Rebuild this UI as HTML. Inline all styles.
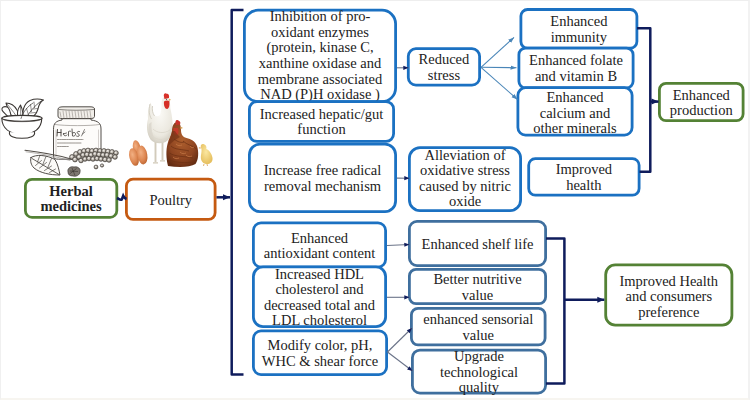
<!DOCTYPE html><html><head><meta charset="utf-8"><style>
html,body{margin:0;padding:0;background:#fff;}
body{width:750px;height:400px;position:relative;overflow:hidden;font-family:"Liberation Serif",serif;}
.frame{position:absolute;left:0;top:0;width:750px;height:400px;box-sizing:border-box;border-top:1px solid #eeeeee;border-left:1px solid #f0f0f0;border-right:2px solid #f2f2f2;border-bottom:2px solid #f7f5f0;}
.b{position:absolute;box-sizing:border-box;display:flex;flex-direction:column;justify-content:center;align-items:center;}
.t{font-size:14.5px;line-height:15.5px;color:#222222;text-align:center;white-space:nowrap;}
svg{position:absolute;left:0;top:0;}
</style></head><body><div class="frame"></div>
<svg width="750" height="400"><rect x="244.40" y="10.20" width="151.20" height="91.40" rx="13.60" ry="13.60" fill="#fff" stroke="#1b71c2" stroke-width="2.80"/></svg><div class="b" style="left:243.0px;top:8.8px;width:154.0px;height:94.2px;"><div style="position:relative;top:0.1px"><div class="t" style="line-height:15.55px">Inhibition of pro-</div><div class="t" style="line-height:15.55px">oxidant enzymes</div><div class="t" style="line-height:15.55px">(protein, kinase C,</div><div class="t" style="line-height:15.55px">xanthine oxidase and</div><div class="t" style="line-height:15.55px">membrane associated</div><div class="t" style="line-height:15.55px">NAD (P)H oxidase )</div></div></div>
<svg width="750" height="400"><rect x="249.40" y="101.60" width="144.20" height="39.80" rx="7.60" ry="7.60" fill="#fff" stroke="#1b71c2" stroke-width="2.80"/></svg><div class="b" style="left:248.0px;top:100.2px;width:147.0px;height:42.6px;"><div style="position:relative;top:1.0px"><div class="t" style="line-height:15.5px">Increased hepatic/gut</div><div class="t" style="line-height:15.5px">function</div></div></div>
<svg width="750" height="400"><rect x="249.40" y="144.20" width="146.20" height="67.40" rx="10.60" ry="10.60" fill="#fff" stroke="#1b71c2" stroke-width="2.80"/></svg><div class="b" style="left:248.0px;top:142.8px;width:149.0px;height:70.2px;"><div style="position:relative;top:1.0px"><div class="t" style="line-height:15.5px">Increase free radical</div><div class="t" style="line-height:15.5px">removal mechanism</div></div></div>
<svg width="750" height="400"><rect x="253.40" y="222.90" width="132.20" height="44.20" rx="7.60" ry="7.60" fill="#fff" stroke="#1b71c2" stroke-width="2.80"/></svg><div class="b" style="left:252.0px;top:221.5px;width:135.0px;height:47.0px;"><div style="position:relative;top:1.4px"><div class="t" style="line-height:15.5px">Enhanced</div><div class="t" style="line-height:15.5px">antioxidant content</div></div></div>
<svg width="750" height="400"><rect x="253.40" y="266.90" width="132.20" height="59.70" rx="9.60" ry="9.60" fill="#fff" stroke="#1b71c2" stroke-width="2.80"/></svg><div class="b" style="left:252.0px;top:265.5px;width:135.0px;height:62.5px;"><div style="position:relative;top:0.8px"><div class="t" style="line-height:15.5px">Increased HDL</div><div class="t" style="line-height:15.5px">cholesterol and</div><div class="t" style="line-height:15.5px">decreased total and</div><div class="t" style="line-height:15.5px">LDL cholesterol</div></div></div>
<svg width="750" height="400"><rect x="253.40" y="330.90" width="133.20" height="43.70" rx="7.60" ry="7.60" fill="#fff" stroke="#1b71c2" stroke-width="2.80"/></svg><div class="b" style="left:252.0px;top:329.5px;width:136.0px;height:46.5px;"><div style="position:relative;top:1.0px"><div class="t" style="line-height:15.5px">Modify color, pH,</div><div class="t" style="line-height:15.5px">WHC &amp; shear force</div></div></div>
<svg width="750" height="400"><rect x="408.30" y="48.70" width="71.30" height="36.40" rx="7.60" ry="7.60" fill="#fff" stroke="#1b71c2" stroke-width="2.80"/></svg><div class="b" style="left:406.9px;top:47.3px;width:74.1px;height:39.2px;"><div style="position:relative;top:1.0px"><div class="t" style="line-height:15.5px">Reduced</div><div class="t" style="line-height:15.5px">stress</div></div></div>
<svg width="750" height="400"><rect x="409.40" y="147.70" width="111.20" height="62.90" rx="10.60" ry="10.60" fill="#fff" stroke="#1b71c2" stroke-width="2.80"/></svg><div class="b" style="left:408.0px;top:146.3px;width:114.0px;height:65.7px;"><div style="position:relative;top:-0.3px"><div class="t" style="line-height:15.5px">Alleviation of</div><div class="t" style="line-height:15.5px">oxidative stress</div><div class="t" style="line-height:15.5px">caused by nitric</div><div class="t" style="line-height:15.5px">oxide</div></div></div>
<svg width="750" height="400"><rect x="409.40" y="221.40" width="136.20" height="44.20" rx="7.60" ry="7.60" fill="#fff" stroke="#3f6f9e" stroke-width="2.80"/></svg><div class="b" style="left:408.0px;top:220.0px;width:139.0px;height:47.0px;"><div style="position:relative;top:1.0px"><div class="t" style="line-height:15.5px">Enhanced shelf life</div></div></div>
<svg width="750" height="400"><rect x="409.40" y="269.40" width="136.20" height="34.20" rx="6.60" ry="6.60" fill="#fff" stroke="#3f6f9e" stroke-width="2.80"/></svg><div class="b" style="left:408.0px;top:268.0px;width:139.0px;height:37.0px;"><div style="position:relative;top:1.0px"><div class="t" style="line-height:15.5px">Better nutritive</div><div class="t" style="line-height:15.5px">value</div></div></div>
<svg width="750" height="400"><rect x="411.40" y="308.40" width="133.70" height="36.50" rx="6.60" ry="6.60" fill="#fff" stroke="#3f6f9e" stroke-width="2.80"/></svg><div class="b" style="left:410.0px;top:307.0px;width:136.5px;height:39.3px;"><div style="position:relative;top:1.0px"><div class="t" style="line-height:15.5px">enhanced sensorial</div><div class="t" style="line-height:15.5px">value</div></div></div>
<svg width="750" height="400"><rect x="412.40" y="350.10" width="133.20" height="43.00" rx="7.60" ry="7.60" fill="#fff" stroke="#3f6f9e" stroke-width="2.80"/></svg><div class="b" style="left:411.0px;top:348.7px;width:136.0px;height:45.8px;"><div style="position:relative;top:1.0px"><div class="t" style="line-height:15.5px">Upgrade</div><div class="t" style="line-height:15.5px">technological</div><div class="t" style="line-height:15.5px">quality</div></div></div>
<svg width="750" height="400"><rect x="520.90" y="9.50" width="116.00" height="38.60" rx="6.60" ry="6.60" fill="#fff" stroke="#1b71c2" stroke-width="2.80"/></svg><div class="b" style="left:519.5px;top:8.1px;width:118.8px;height:41.4px;"><div style="position:relative;top:1.0px"><div class="t" style="line-height:15.5px">Enhanced</div><div class="t" style="line-height:15.5px">immunity</div></div></div>
<svg width="750" height="400"><rect x="518.90" y="48.10" width="114.20" height="39.80" rx="6.60" ry="6.60" fill="#fff" stroke="#1b71c2" stroke-width="2.80"/></svg><div class="b" style="left:517.5px;top:46.7px;width:117.0px;height:42.6px;"><div style="position:relative;top:1.0px"><div class="t" style="line-height:15.5px">Enhanced folate</div><div class="t" style="line-height:15.5px">and vitamin B</div></div></div>
<svg width="750" height="400"><rect x="517.90" y="87.70" width="114.20" height="47.40" rx="7.60" ry="7.60" fill="#fff" stroke="#1b71c2" stroke-width="2.80"/></svg><div class="b" style="left:516.5px;top:86.3px;width:117.0px;height:50.2px;"><div style="position:relative;top:2.2px"><div class="t" style="line-height:15.5px">Enhanced</div><div class="t" style="line-height:15.5px">calcium and</div><div class="t" style="line-height:15.5px">other minerals</div></div></div>
<svg width="750" height="400"><rect x="528.70" y="158.70" width="110.40" height="36.40" rx="6.60" ry="6.60" fill="#fff" stroke="#1b71c2" stroke-width="2.80"/></svg><div class="b" style="left:527.3px;top:157.3px;width:113.2px;height:39.2px;"><div style="position:relative;top:1.0px"><div class="t" style="line-height:15.5px">Improved</div><div class="t" style="line-height:15.5px">health</div></div></div>
<svg width="750" height="400"><rect x="659.40" y="83.40" width="83.70" height="37.20" rx="6.60" ry="6.60" fill="#fff" stroke="#548235" stroke-width="2.80"/></svg><div class="b" style="left:658.0px;top:82.0px;width:86.5px;height:40.0px;"><div style="position:relative;top:1.0px"><div class="t" style="line-height:15.5px">Enhanced</div><div class="t" style="line-height:15.5px">production</div></div></div>
<svg width="750" height="400"><rect x="605.70" y="264.90" width="126.20" height="60.20" rx="9.60" ry="9.60" fill="#fff" stroke="#548235" stroke-width="2.80"/></svg><div class="b" style="left:604.3px;top:263.5px;width:129.0px;height:63.0px;"><div style="position:relative;top:1.8px"><div class="t" style="line-height:15.5px">Improved Health</div><div class="t" style="line-height:15.5px">and consumers</div><div class="t" style="line-height:15.5px">preference</div></div></div>
<svg width="750" height="400"><rect x="25.40" y="179.40" width="91.40" height="37.90" rx="6.60" ry="6.60" fill="#fff" stroke="#548235" stroke-width="2.80"/></svg><div class="b" style="left:24.0px;top:178.0px;width:94.2px;height:40.7px;"><div style="position:relative;top:1.0px"><div class="t" style="line-height:15.5px;font-weight:bold">Herbal</div><div class="t" style="line-height:15.5px;font-weight:bold">medicines</div></div></div>
<svg width="750" height="400"><rect x="126.40" y="179.20" width="88.70" height="40.20" rx="6.60" ry="6.60" fill="#fff" stroke="#c55a11" stroke-width="2.80"/></svg><div class="b" style="left:125.0px;top:177.8px;width:91.5px;height:43.0px;"><div style="position:relative;top:1.5px"><div class="t" style="line-height:15.5px">Poultry</div></div></div>
<svg width="750" height="400" viewBox="0 0 750 400">
<defs><marker id="ah" markerWidth="8" markerHeight="8" refX="6" refY="4" orient="auto" markerUnits="userSpaceOnUse"><path d="M0.8,1.9 L6,4 L0.8,6.1 Z" fill="#0f1c5c"/></marker>
<marker id="ahl" markerWidth="8" markerHeight="8" refX="6" refY="4" orient="auto" markerUnits="userSpaceOnUse"><path d="M0,1.8 L6,4 L0,6.2 Z" fill="#4a86b8"/></marker>
<marker id="ahb" markerWidth="10" markerHeight="10" refX="8" refY="5" orient="auto" markerUnits="userSpaceOnUse"><path d="M1,2 L8,5 L1,8 Z" fill="#0f1c5c"/></marker></defs>
<path d="M243.5,10 H231.7 V374.5 H243.5" fill="none" stroke="#0f1c5c" stroke-width="2.5" stroke-linejoin="round"/>
<path d="M637,28.3 H650.3 V171.7 H639.5" fill="none" stroke="#0f1c5c" stroke-width="2.5" stroke-linejoin="round"/>
<path d="M546,238.5 H564.4 V383.5 H546" fill="none" stroke="#0f1c5c" stroke-width="2.5" stroke-linejoin="round"/>
<path d="M650.3,101.6 H658.5" fill="none" stroke="#0f1c5c" stroke-width="2.5" marker-end="url(#ahb)"/>
<path d="M564.4,299.8 H604.3" fill="none" stroke="#0f1c5c" stroke-width="2.5" marker-end="url(#ahb)"/>
<path d="M216.5,197.3 H230" fill="none" stroke="#0f1c5c" stroke-width="2.5" marker-end="url(#ahb)"/>
<path d="M117,198 C119,199 120.5,200.5 121.8,199.5 L123.2,195.8 C124,197.5 125,198.5 126.5,199" fill="none" stroke="#0f1c5c" stroke-width="2.6"/>
<line x1="397" y1="67.8" x2="408.5" y2="67.8" stroke="#6a7388" stroke-width="1.1" marker-end="url(#ah)"/>
<line x1="397" y1="178.1" x2="409.5" y2="178.3" stroke="#6a7388" stroke-width="1.1" marker-end="url(#ah)"/>
<line x1="387" y1="245.5" x2="409.5" y2="244.5" stroke="#6a7388" stroke-width="1.1" marker-end="url(#ah)"/>
<line x1="387" y1="297.3" x2="409.5" y2="297.3" stroke="#6a7388" stroke-width="1.1" marker-end="url(#ah)"/>
<line x1="387.5" y1="352" x2="412" y2="328" stroke="#6a7388" stroke-width="1.1" marker-end="url(#ah)"/>
<line x1="387.5" y1="352" x2="412.5" y2="371" stroke="#6a7388" stroke-width="1.1" marker-end="url(#ah)"/>
<line x1="481" y1="67.3" x2="514" y2="37.4" stroke="#4a86b8" stroke-width="1.1" marker-end="url(#ahl)"/>
<line x1="481" y1="67.3" x2="516.5" y2="67.75" stroke="#4a86b8" stroke-width="1.1" marker-end="url(#ahl)"/>
<line x1="481" y1="67.3" x2="517.5" y2="99.5" stroke="#4a86b8" stroke-width="1.1" marker-end="url(#ahl)"/>
</svg><svg width="750" height="400" viewBox="0 0 750 400" style="position:absolute;left:0;top:0">
<defs>
<radialGradient id="eg" cx="0.4" cy="0.35" r="0.7"><stop offset="0" stop-color="#f2b083"/><stop offset="0.65" stop-color="#dc8550"/><stop offset="1" stop-color="#b9632f"/></radialGradient>
<radialGradient id="wh" cx="0.5" cy="0.35" r="0.7"><stop offset="0" stop-color="#fbfaf6"/><stop offset="0.7" stop-color="#ebe8df"/><stop offset="1" stop-color="#cfcabd"/></radialGradient>
<radialGradient id="br" cx="0.5" cy="0.4" r="0.65"><stop offset="0" stop-color="#ad5f2e"/><stop offset="0.65" stop-color="#8e4420"/><stop offset="1" stop-color="#642c12"/></radialGradient>
<radialGradient id="ch" cx="0.45" cy="0.4" r="0.6"><stop offset="0" stop-color="#fbe7a0"/><stop offset="1" stop-color="#e6c060"/></radialGradient>
<radialGradient id="pc" cx="0.4" cy="0.35" r="0.65"><stop offset="0" stop-color="#f2efea"/><stop offset="0.6" stop-color="#b8b2aa"/><stop offset="1" stop-color="#6e6860"/></radialGradient>
</defs>
<!-- HERBS : bowl + leaves -->
<g fill="none" stroke="#3a3633" stroke-width="1.05" stroke-linejoin="round" stroke-linecap="round">
  <path d="M23,121 C22,112 23,104 30,100.5 C35,98.5 40,99 43.5,100 C40.5,101.5 39,104 38,109 C36.5,115 31,119 25,121 Z" fill="#fff"/>
  <path d="M25,119.5 C29,113 34,106 41.5,100.8" stroke-width="0.8"/>
  <path d="M28.5,115 L26.5,108.5 M31.5,111.5 L30.5,104.5 M34.5,107.5 L34,102 M30.5,113 L35.5,112.5 M33.5,109 L37.5,108.5" stroke-width="0.55"/>
  <path d="M14.5,121 C10.5,115 7.5,109 6,103 C10.5,103 14.5,105.5 17,110 C19,113.5 20.5,117.5 21,121 Z" fill="#fff"/>
  <path d="M7,104 C12,110 16,115 19,120.5" stroke-width="0.6"/>
  <path d="M18.5,121 C16.5,115 17.5,109 20.5,105 C22.5,109 23.5,115 22.5,121 Z" fill="#fff"/>
  <path d="M20.5,106 L20.8,120" stroke-width="0.55"/>
  <path d="M9,118 C6.5,114.5 3,112.5 2,110 C1.3,107 4.3,106 7.3,107 C9.3,108 10.5,112 11.5,118" fill="#fff"/>
  <path d="M1.8,118 C2,128.5 10,134 22,134.5 C34,134 41.5,128.5 41.8,118" fill="#fff" stroke-width="1.15"/>
  <ellipse cx="22" cy="118.3" rx="20" ry="2.9" fill="#fff" stroke-width="1.15"/>
  <path d="M4,120 C10,122.3 34,122.3 40,120" stroke-width="0.5"/>
  <path d="M9.5,132.3 C8.5,136 14,138.2 22,138.2 C30,138.2 35.5,136 34.5,132.3" fill="#fff" stroke-width="1.1"/>
  <path d="M21,118.5 C23,112 27,107 33,103" stroke-width="0.7"/>
</g>
<!-- jar -->
<g fill="none" stroke="#3e3a36" stroke-width="0.9" stroke-linejoin="round" stroke-linecap="round">
  <path d="M53.5,129 C53.5,123 56,121 62,120 L62,118.6 L91,118.6 L91,120 C98,121 101,123 101,129 L101,157 C101,158.5 99,159.2 96,159.2 L58.5,159.2 C55.5,159.2 53.5,158.5 53.5,157 Z" fill="#fdfcfa"/>
  <path d="M58,109 C58,107.5 60,106.8 63,106.8 L90,106.8 C93,106.8 94.5,107.5 94.5,109 L94.5,116.5 C94.5,118 92.5,118.6 90,118.6 L62.5,118.6 C60,118.6 58,118 58,116.5 Z" fill="#f1eee9"/>
  <path d="M59,109.5 C70,110.5 82,110.5 94,109.5" stroke-width="0.6"/>
  <path d="M60,112 L61,117 M63,111 L64,118 M66,111 L67,118 M69,111 L70,118 M72,111 L73,118 M75,111 L76,118 M78,111 L79,118 M81,111 L82,118 M84,111 L85,118 M87,111 L88,118 M90,111 L91,118" stroke-width="0.55" stroke="#8a857e"/>
  <path d="M55,124.5 C65,126 90,126 99.5,124.5" stroke-width="0.55" stroke="#77726c"/>
  <path d="M56,130 L56,156 M98.5,130 L98.5,156" stroke-width="0.45" stroke="#a09b95"/>
  <path d="M57,136 L57.5,129.5 M57.3,132.5 L61,132.5 M61,129.5 L61,136" stroke-width="0.9"/>
  <path d="M63.5,133.5 C63,136 66,136.5 67,135 M63.3,134 L66.5,133" stroke-width="0.8"/>
  <path d="M68.5,136 L68.5,131.5 C69.5,131 70.5,131 71,131.5" stroke-width="0.8"/>
  <path d="M72,129 L72.5,136 C74,136.5 76,135.5 75.5,133.5 C75,132 73,132.5 72.5,133" stroke-width="0.8"/>
  <path d="M79.5,131.5 C78,131 76.5,132 77.5,133.3 C78.5,134 80,134.5 79,136 C78,136.8 77,136.3 76.5,136" stroke-width="0.8"/>
  <path d="M81.5,136 L84.5,129.5 M82.5,134 L85,132" stroke-width="0.6"/>
  <path d="M57.5,139.5 H83 M57.5,143 H81 M57.5,146.5 H69" stroke="#8f8a84" stroke-width="0.9" stroke-dasharray="1.6 0.7"/>
  <!-- stick -->
  <path d="M25,150.3 C38,151.8 55,154.5 71,159" stroke-width="1.1" stroke="#55504a"/>
  <path d="M26,151.8 C40,153.5 56,156.5 70,160.5" stroke-width="0.6" stroke="#8a857f"/>
  <!-- bottom leaf -->
  <path d="M31,157.5 C36,154 47,155 55,159.5 C58,164.5 59,170 60,175 C50,175 40,173 34,168 C31,165 30,161 31,157.5 Z" fill="#fbfaf8"/>
  <path d="M32,158.5 L59,174.5" stroke-width="0.8"/>
  <path d="M35.5,165.5 L41.5,160.5 M39.5,168 L46.5,162.5 M44.5,170.5 L51.5,166 M49.5,172.5 L55.5,169 M37.5,162 L39.5,156.5 M43,164 L46,156.5 M48,167 L51.5,158.5" stroke-width="0.65"/>
</g>
<!-- peppercorns -->
<g fill="url(#pc)" stroke="#45403b" stroke-width="0.75">
  <circle cx="72" cy="157" r="2.4"/><circle cx="76" cy="154" r="2.4"/><circle cx="80" cy="152" r="2.4"/><circle cx="84" cy="151" r="2.4"/><circle cx="88" cy="150.5" r="2.4"/><circle cx="92" cy="151" r="2.4"/><circle cx="96" cy="150.5" r="2.4"/><circle cx="100" cy="151" r="2.4"/><circle cx="104" cy="151" r="2.4"/><circle cx="108" cy="151.5" r="2.4"/><circle cx="112" cy="152" r="2.4"/><circle cx="116" cy="153" r="2.3"/>
  <circle cx="75" cy="159.5" r="2.4"/><circle cx="79" cy="157" r="2.4"/><circle cx="83" cy="155" r="2.4"/><circle cx="87" cy="154.5" r="2.4"/><circle cx="91" cy="155" r="2.4"/><circle cx="95" cy="154" r="2.4"/><circle cx="99" cy="154.5" r="2.4"/><circle cx="103" cy="155" r="2.4"/><circle cx="107" cy="155" r="2.4"/><circle cx="111" cy="156" r="2.4"/><circle cx="115" cy="157" r="2.3"/>
  <circle cx="81" cy="160.5" r="2.3"/><circle cx="85" cy="159" r="2.3"/><circle cx="89" cy="158.5" r="2.3"/><circle cx="93" cy="159" r="2.3"/><circle cx="97" cy="158.5" r="2.3"/><circle cx="101" cy="159" r="2.3"/><circle cx="105" cy="159.5" r="2.3"/><circle cx="109" cy="160" r="2.3"/>
  <circle cx="96" cy="167" r="1.9"/><circle cx="102" cy="165.5" r="1.6"/>
</g>
<g stroke="#2e2a26" stroke-width="0.6">
  <path d="M68,172 C67,168 71,166 74,167 C78,166 81,169 80,172 C80,175 76,177 73,176 C70,176 68,175 68,172 Z" fill="#7d7770"/>
  <path d="M70,171 L78,171.5 M72,168 L75,175.5 M69.5,174 L76.5,168.5" stroke="#2a2622" stroke-width="0.5" fill="none"/>
</g>
<!-- POULTRY eggs -->
<g>
  <ellipse cx="136.8" cy="148" rx="3.8" ry="7.8" fill="url(#eg)" transform="rotate(-12 136.8 148)"/>
  <ellipse cx="134" cy="157" rx="4.6" ry="9" fill="url(#eg)" transform="rotate(-14 134 157)"/>
  <ellipse cx="142.3" cy="155" rx="5" ry="9.5" fill="url(#eg)" transform="rotate(-10 142.3 155)"/>
</g>
<!-- white hen -->
<g>
  <path d="M155.5,140 L155.5,162 M162.5,140 L162.5,160" stroke="#d2cbbb" stroke-width="1.9"/>
  <path d="M153,162.8 L158,162.8 M160,160.8 L165,160.8" stroke="#cfc7b6" stroke-width="1.2"/>
  <path d="M150.5,102.5 C148,108 147.5,114 148,119 C146,126 147,134 150.5,139.5 C153,143 160,144.5 165.5,142 C170.5,139 172.8,131 172.5,123 C172.3,117 171.2,112 170.3,108 C170.2,103 169.8,97.5 166,96.5 C163,96.5 161.5,99.5 161.5,104 C161.5,108 161,112 160,115 C157.5,117 155,116.5 153.5,114 C152.5,110.5 152,106 150.5,102.5 Z" fill="url(#wh)"/>
  <path d="M150,104 C148.5,110 149,115 151.5,119 M152.5,106 C152,110 152.5,113 154.5,116" stroke="#d0ccc0" stroke-width="0.9" fill="none"/>
  <path d="M149,124 C148,132 150,138 155,141 C152,134 151,128 151.5,122 Z" fill="#d9d5ca" opacity="0.8"/>
  <path d="M153,129 C157,133 164,134 170,130 M152,136 C157,140 163,141 168,137" stroke="#dcd8cd" stroke-width="0.9" fill="none"/>
  <path d="M163.8,96 C163.5,93.2 165.5,92.6 166.8,93.8 C168.5,93.5 169.5,95.5 169,98 L164.5,99 Z" fill="#d8322a"/>
  <path d="M164,101.5 C163.5,105.5 165,109 167,109 C169.3,108.5 169.8,104.5 169.3,101 C167.5,100 165.5,100.3 164,101.5 Z" fill="#d62f26"/>
  <path d="M169,98.5 L171,99.8 L169,101 Z" fill="#e0b060"/>
  <circle cx="166.5" cy="99.3" r="0.55" fill="#333"/>
</g>
<!-- brown hen -->
<g>
  <path d="M168,166 C166,158 166,150 167.5,144 C168.5,139 171,136 172,131 C172,126 174,122 177,122 C180,122 181,126 181,130 C181,134 182.5,137 186.5,138 C191,139 195,141 197,146 C199,152 198.5,160 195.5,164 C190,167.5 178,167.5 168,166 Z" fill="url(#br)"/>
  <path d="M175.5,122 C175.5,119.8 178,119.5 179,121 C180.5,121.3 180.8,123.5 179.8,124.5 L176,125 Z" fill="#c8302a"/>
  <path d="M173.5,128 C173,133 175,136 177.5,135 C179,133 178.5,130 178,128 Z" fill="#c23a2a"/>
  <path d="M180.5,126.5 L183,128 L180.5,129 Z" fill="#d4a050"/>
  <path d="M171,146 C175,150 182,149 189,151 M169.5,153 C175,157 184,156 193,158 M183,141 C187,145 192,145 196.5,149 M170,160 C176,163 186,163 194,162 M174,139 C178,142 181,143 184,142" stroke="#6e3214" stroke-width="1" fill="none" opacity="0.75"/>
  <path d="M176,144 C178,146 180,146 182,145 M186,155 C188,157 190,157 192,156 M173,157 C175,159 177,159 179,158 M180,152 C182,154 184,154 186,153 M190,146 C191,148 193,148 194,147" stroke="#c97c48" stroke-width="0.9" fill="none" opacity="0.75"/>
  <path d="M172,131 C171,137 169,141 168,146 C172,142 176,139 180,137 C178,135 176,133 175,131 Z" fill="#6e2e14" opacity="0.6"/>
</g>
<!-- chick -->
<g>
  <path d="M201,147.5 C200,145 202,143.5 204,144.3 C206,145 206.8,147 206.3,149 C209.3,150 212,154 212.5,158 C213,162 210,164.5 206,164 C202,163 200.3,160 201,155 C201.5,152 202,150 201,147.5 Z" fill="url(#ch)"/>
  <path d="M200.3,147 L198.5,148 L200.5,148.8 Z" fill="#d89040"/>
  <path d="M204,164 L203.5,166 M207,164 L207.5,166" stroke="#d8a050" stroke-width="0.8"/>
</g>
</svg>
</body></html>
